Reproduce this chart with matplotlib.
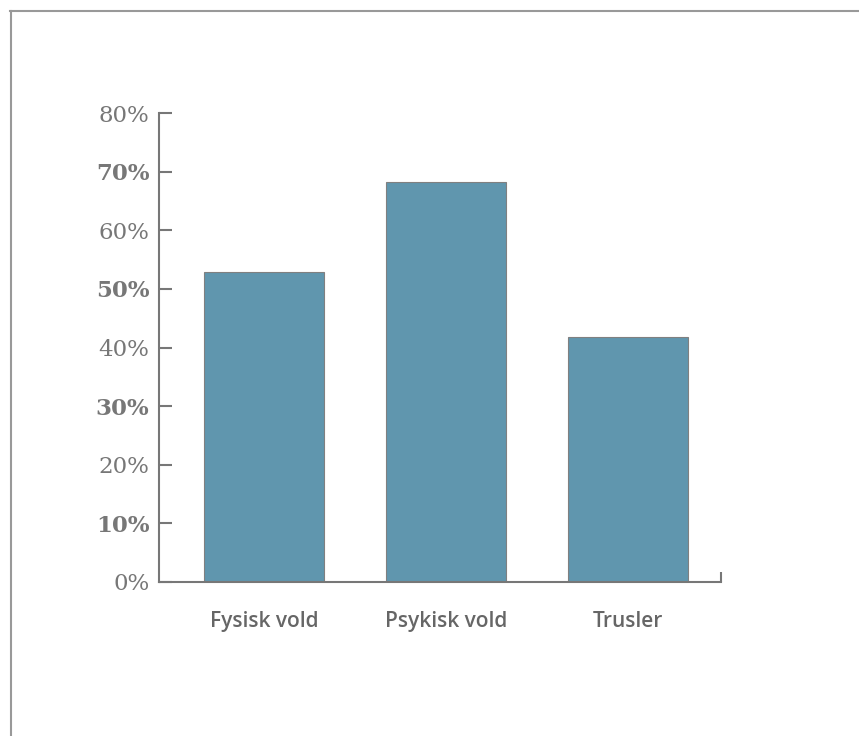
import matplotlib
matplotlib.use("Agg")
import matplotlib.pyplot as plt
from matplotlib.lines import Line2D

categories = ["Fysisk vold", "Psykisk vold", "Trusler"]
values = [52.9, 68.3, 41.8]
yticks = [0, 10, 20, 30, 40, 50, 60, 70, 80]
ytick_labels = ["0%", "10%", "20%", "30%", "40%", "50%", "60%", "70%", "80%"]
bold_ticks = [10, 30, 50, 70]

W, H = 859, 736
fig = plt.figure(figsize=(W / 100, H / 100), dpi=100)
ax = fig.add_axes([159 / W, 1 - 582 / H, (721 - 159) / W, (582 - 113) / H])

grey = "#777777"
x = list(range(len(categories)))
ax.bar(x, values, width=0.66, color="#6096AE", edgecolor="#808080", linewidth=0.8)

ax.set_xlim(-0.577, 2.511)
ax.set_ylim(0, 80)
ax.set_yticks(yticks)
ax.set_yticklabels(ytick_labels, fontfamily="DejaVu Serif", fontsize=16.5, color=grey)
for lab, v in zip(ax.get_yticklabels(), yticks):
    if v in bold_ticks:
        lab.set_fontweight("bold")
ax.tick_params(axis="y", direction="in", length=9.5, width=1.5, color=grey, pad=7)

ax.set_xticks(x)
ax.set_xticklabels(categories, fontfamily="Open Sans", fontweight="semibold", fontsize=15, color="#666666")
ax.tick_params(axis="x", length=0, pad=21)

for s in ["top", "right"]:
    ax.spines[s].set_visible(False)
for s in ["left", "bottom"]:
    ax.spines[s].set_color(grey)
    ax.spines[s].set_linewidth(1.5)

ax.plot([1, 1], [0, 0.022], transform=ax.transAxes, color=grey, lw=1.5, clip_on=False, solid_capstyle="butt")

# figure border (top and left)
fig.add_artist(Line2D([10.5 / W, 10.5 / W], [0, 1 - 11 / H], color="#999999", lw=1.5, transform=fig.transFigure))
fig.add_artist(Line2D([10 / W, 1], [1 - 11 / H, 1 - 11 / H], color="#999999", lw=1.5, transform=fig.transFigure))

fig.savefig("out.png", dpi=100)
